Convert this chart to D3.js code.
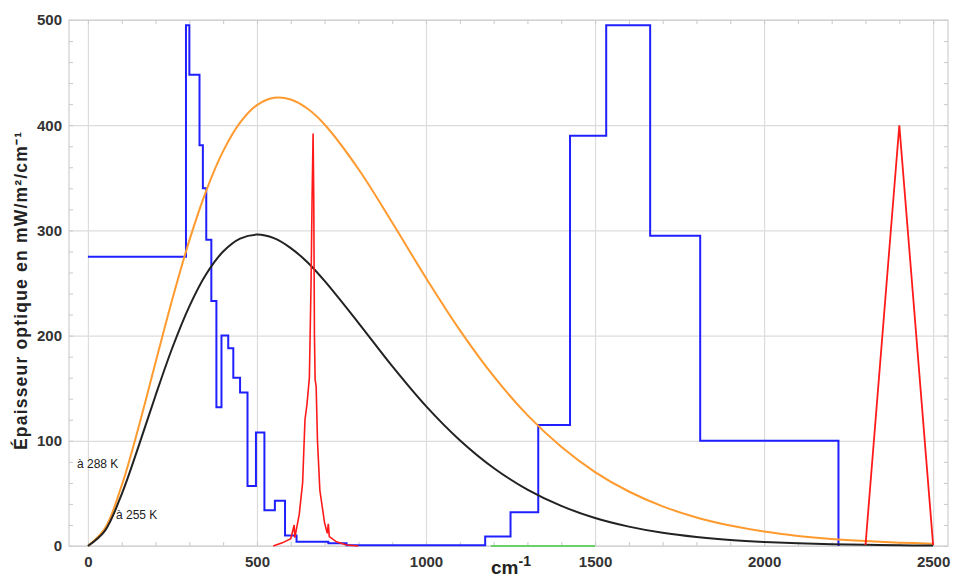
<!DOCTYPE html>
<html>
<head>
<meta charset="utf-8">
<script src="https://cdn.jsdelivr.net/npm/d3@7"></script>
<style>
  body { margin: 0; background: #fff; }
  svg { display: block; font-family: "Liberation Sans", Arial, sans-serif; }
</style>
</head>
<body>
<div id="chart"></div>
<script>
// wavenumbers (cm-1) where the smooth curves were read
var planckNu = [0, 50, 100, 150, 200, 250, 300, 350, 400, 450, 500, 550, 600, 650, 700, 800, 900, 1000, 1100, 1200, 1300, 1400, 1500, 1600, 1700, 1800, 1900, 2000, 2100, 2200, 2300, 2400, 2500];
// black curve, 255 K
var curve255 = [0, 14.4, 49.4, 94.9, 143.1, 188.7, 227.8, 258.5, 279.9, 292.2, 296.0, 292.6, 283.2, 269.5, 252.0, 212.2, 171.0, 133.0, 100.6, 74.2, 53.6, 38.1, 26.6, 18.4, 12.5, 8.5, 5.7, 3.8, 2.5, 1.6, 1.1, 0.7, 0.4];
// orange curve, 288 K
var curve288 = [0, 16.5, 57.7, 113.2, 174.4, 235.0, 290.5, 337.9, 375.4, 402.4, 419.1, 426.1, 424.5, 415.6, 400.7, 358.4, 307.5, 254.8, 205.2, 161.4, 124.4, 94.3, 70.3, 51.8, 37.7, 27.1, 19.4, 13.7, 9.6, 6.7, 4.7, 3.2, 2.2];

// blue step series (start of each band, value)
var blueNu  = [0, 290, 300, 330, 340, 350, 365, 380, 395, 415, 430, 450, 472, 497, 522, 553, 583, 617, 711, 765, 1175, 1250, 1332, 1426, 1533, 1663, 1811, 2220];
var blueVal = [275, 495, 448, 381, 340, 291, 233, 132, 200, 188, 160, 146, 57, 108, 34, 43, 10, 4, 2.5, 0.8, 9, 32, 115, 390, 495, 295, 100, 0];

// red peaks
var redNu  = [548, 575, 600, 610, 612, 625, 635, 642, 648, 655, 660, 663, 666, 668, 670, 672, 675, 679, 686, 700, 708, 711, 714, 735, 765, 800];
var redVal = [0, 3, 7, 20, 8, 30, 60, 120, 135, 160, 250, 330, 392, 330, 200, 158, 152, 100, 53, 22, 12, 21, 9, 4, 1, 0];
var red2Nu  = [2300, 2400, 2500];
var red2Val = [1, 400, 1];

// green segment
var greenNu  = [1192, 1500];
var greenVal = [0, 0];

var xTicks = [0, 500, 1000, 1500, 2000, 2500];
var yTicks = [0, 100, 200, 300, 400, 500];

function init(){

    var w = 953;
    var h = 577;
    var left = 69, right = 948, top = 20, bottom = 546;

    var x = d3.scaleLinear().domain([-56, 2544]).range([left, right]);
    var y = d3.scaleLinear().domain([0, 500]).range([bottom, top]);

    var svg = d3.select("#chart")
                .append("svg")
                .attr("width", w)
                .attr("height", h);

    // grid
    svg.append("g")
        .attr("transform", "translate(0," + bottom + ")")
        .call(d3.axisBottom(x).tickValues(xTicks).tickSize(-(bottom - top)).tickFormat(""))
        .call(function(g){ g.select(".domain").remove(); })
        .selectAll("line").attr("stroke", "#dcdcdc").attr("stroke-width", 1.2);

    svg.append("g")
        .attr("transform", "translate(" + left + ",0)")
        .call(d3.axisLeft(y).tickValues(yTicks).tickSize(-(right - left)).tickFormat(""))
        .call(function(g){ g.select(".domain").remove(); })
        .selectAll("line").attr("stroke", "#dcdcdc").attr("stroke-width", 1.2);

    // minor ticks on all four sides
    var xMinor = d3.range(0, 2600, 100);
    var yMinor = d3.range(0, 501, 20);
    function minor(g){
        g.select(".domain").remove();
        g.selectAll("line").attr("stroke", "#c8c8c8");
    }
    svg.append("g").attr("transform", "translate(0," + bottom + ")")
        .call(d3.axisBottom(x).tickValues(xMinor).tickSize(-4).tickFormat("")).call(minor);
    svg.append("g").attr("transform", "translate(0," + top + ")")
        .call(d3.axisTop(x).tickValues(xMinor).tickSize(-4).tickFormat("")).call(minor);
    svg.append("g").attr("transform", "translate(" + left + ",0)")
        .call(d3.axisLeft(y).tickValues(yMinor).tickSize(-4).tickFormat("")).call(minor);
    svg.append("g").attr("transform", "translate(" + right + ",0)")
        .call(d3.axisRight(y).tickValues(yMinor).tickSize(-4).tickFormat("")).call(minor);

    // frame
    svg.append("rect")
        .attr("x", left).attr("y", top)
        .attr("width", right - left).attr("height", bottom - top)
        .attr("fill", "none").attr("stroke", "#cfcfcf").attr("stroke-width", 1.2);

    // tick labels
    var xAxis = svg.append("g")
        .attr("transform", "translate(0," + bottom + ")")
        .call(d3.axisBottom(x).tickValues(xTicks).tickSize(0).tickPadding(10).tickFormat(d3.format("d")));
    xAxis.select(".domain").remove();
    xAxis.selectAll("text")
        .attr("font-size", 15).attr("font-weight", "bold").attr("fill", "#333")
        .style("font-family", "Liberation Sans, Arial, sans-serif");

    var yAxis = svg.append("g")
        .attr("transform", "translate(" + left + ",0)")
        .call(d3.axisLeft(y).tickValues(yTicks).tickSize(0).tickPadding(7).tickFormat(d3.format("d")));
    yAxis.select(".domain").remove();
    yAxis.selectAll("text")
        .attr("font-size", 15).attr("font-weight", "bold").attr("fill", "#333")
        .style("font-family", "Liberation Sans, Arial, sans-serif");

    // axis titles
    svg.append("text")
        .attr("transform", "translate(27,291) rotate(-90)")
        .attr("text-anchor", "middle")
        .attr("font-size", 17.5).attr("font-weight", "bold").attr("fill", "#222")
        .attr("textLength", 318).attr("lengthAdjust", "spacing")
        .text("Épaisseur optique en mW/m²/cm⁻¹");

    var xt = svg.append("text")
        .attr("x", 511).attr("y", 574)
        .attr("text-anchor", "middle")
        .attr("font-size", 19).attr("font-weight", "bold").attr("fill", "#222");
    xt.append("tspan").text("cm");
    xt.append("tspan").attr("dy", -8).attr("font-size", 14).text("-1");

    // series
    function pts(xs, ys){ return xs.map(function(d, i){ return [d, ys[i]]; }); }

    var smooth = d3.line()
        .x(function(d){ return x(d[0]); })
        .y(function(d){ return y(d[1]); })
        .curve(d3.curveCatmullRom);
    var step = d3.line()
        .x(function(d){ return x(d[0]); })
        .y(function(d){ return y(d[1]); })
        .curve(d3.curveStepAfter);
    var straight = d3.line()
        .x(function(d){ return x(d[0]); })
        .y(function(d){ return y(d[1]); });

    svg.append("path").attr("d", straight(pts(greenNu, greenVal)))
        .attr("fill", "none").attr("stroke", "#44cc44").attr("stroke-width", 1.5);

    svg.append("path").attr("d", step(pts(blueNu, blueVal)))
        .attr("fill", "none").attr("stroke", "#2020ff").attr("stroke-width", 2);

    svg.append("path").attr("d", smooth(pts(planckNu, curve288)))
        .attr("fill", "none").attr("stroke", "#ff9a2e").attr("stroke-width", 2);

    svg.append("path").attr("d", smooth(pts(planckNu, curve255)))
        .attr("fill", "none").attr("stroke", "#222").attr("stroke-width", 2);

    svg.append("path").attr("d", straight(pts(redNu, redVal)))
        .attr("fill", "none").attr("stroke", "#ff1a1a").attr("stroke-width", 1.6);

    svg.append("path").attr("d", straight(pts(red2Nu, red2Val)))
        .attr("fill", "none").attr("stroke", "#ff1a1a").attr("stroke-width", 1.8);

    // temperature labels
    svg.append("text").attr("x", 77).attr("y", 468)
        .attr("font-size", 12).attr("fill", "#222").text("à 288 K");
    svg.append("text").attr("x", 116).attr("y", 519)
        .attr("font-size", 12).attr("fill", "#222").text("à 255 K");
}

window.onload = init;
</script>
</body>
</html>
